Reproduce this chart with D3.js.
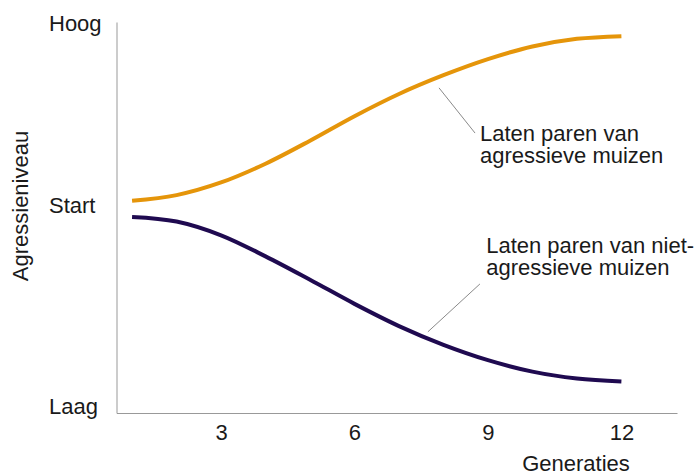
<!DOCTYPE html>
<html>
<head>
<meta charset="utf-8">
<title>Agressieniveau per generatie</title>
<script src="https://cdn.jsdelivr.net/npm/d3@7/dist/d3.min.js"></script>
<style>
  body { margin: 0; background: #fff; }
  svg text { font-family: "Liberation Sans", Arial, sans-serif; fill: #1a1a1a; }
</style>
</head>
<body>
<svg id="chart" width="696" height="476"></svg>
<script>
// generaties 1..12
var generaties = [1, 2, 3, 4, 5, 6, 7, 8, 9, 10, 11, 12];
// agressieniveau (Laag = 0, Hoog = 100)
var agressief = [53.8, 55.3, 58.6, 63.5, 69.5, 75.9, 81.7, 86.6, 90.8, 94.1, 96.1, 96.8];
var nietAgressief = [49.6, 48.4, 44.8, 39.3, 33.2, 26.9, 21.1, 16.2, 12.2, 9.2, 7.4, 6.6];

var xTicks = [3, 6, 9, 12];
var yTickValues = [0, 52.7, 100];
var yTickLabels = ['Laag', 'Start', 'Hoog'];

var svg = d3.select('#chart');

var x = d3.scaleLinear().domain([0.65, 13.25]).range([116.5, 677]);
var y = d3.scaleLinear().domain([-1.6, 100.5]).range([413, 22]);

// x-as
var xAxis = svg.append('g')
	.attr('transform', 'translate(0,' + y.range()[0] + ')')
	.call(d3.axisBottom(x).tickValues(xTicks).tickSize(0).tickPadding(11));
xAxis.select('.domain').attr('stroke', '#999');
xAxis.selectAll('text').style('font-size', '22px').attr('fill', '#1a1a1a');

// y-as
var yAxis = svg.append('g')
	.attr('transform', 'translate(' + x.range()[0] + ',0)')
	.call(d3.axisLeft(y).tickValues(yTickValues).tickSize(0)
		.tickFormat((d, i) => yTickLabels[i]));
yAxis.select('.domain').attr('stroke', '#999');
yAxis.selectAll('text')
	.style('font-size', '22px')
	.attr('fill', '#1a1a1a')
	.attr('text-anchor', 'start')
	.attr('x', 49 - x.range()[0]);

// as-titels
svg.append('text')
	.attr('x', 576)
	.attr('y', 471)
	.attr('text-anchor', 'middle')
	.style('font-size', '22px')
	.text('Generaties');

svg.append('text')
	.attr('transform', 'translate(28,206) rotate(-90)')
	.attr('text-anchor', 'middle')
	.style('font-size', '22px')
	.text('Agressieniveau');

// lijnen
var line = d3.line()
	.x((d, i) => x(generaties[i]))
	.y(d => y(d))
	.curve(d3.curveMonotoneX);

svg.append('path')
	.datum(agressief)
	.attr('d', line)
	.attr('fill', 'none')
	.attr('stroke', '#e5950a')
	.attr('stroke-width', 4);

svg.append('path')
	.datum(nietAgressief)
	.attr('d', line)
	.attr('fill', 'none')
	.attr('stroke', '#1f0a50')
	.attr('stroke-width', 4);

// annotaties
var annotations = [
	{ from: [7.9, 83.3], to: [8.71, 71.5], pos: [8.82, 69.5], lines: ['Laten paren van', 'agressieve muizen'] },
	{ from: [7.65, 19.6], to: [8.82, 32.1], pos: [8.96, 40.3], lines: ['Laten paren van niet-', 'agressieve muizen'] }
];

annotations.forEach(a => {
	svg.append('line')
		.attr('x1', x(a.from[0])).attr('y1', y(a.from[1]))
		.attr('x2', x(a.to[0])).attr('y2', y(a.to[1]))
		.attr('stroke', '#8a8a8a')
		.attr('stroke-width', 1);

	var t = svg.append('text')
		.attr('x', x(a.pos[0]))
		.attr('y', y(a.pos[1]))
		.style('font-size', '22px');
	a.lines.forEach((l, i) => {
		t.append('tspan')
			.attr('x', x(a.pos[0]))
			.attr('dy', i == 0 ? 0 : 22.5)
			.text(l);
	});
});
</script>
</body>
</html>
